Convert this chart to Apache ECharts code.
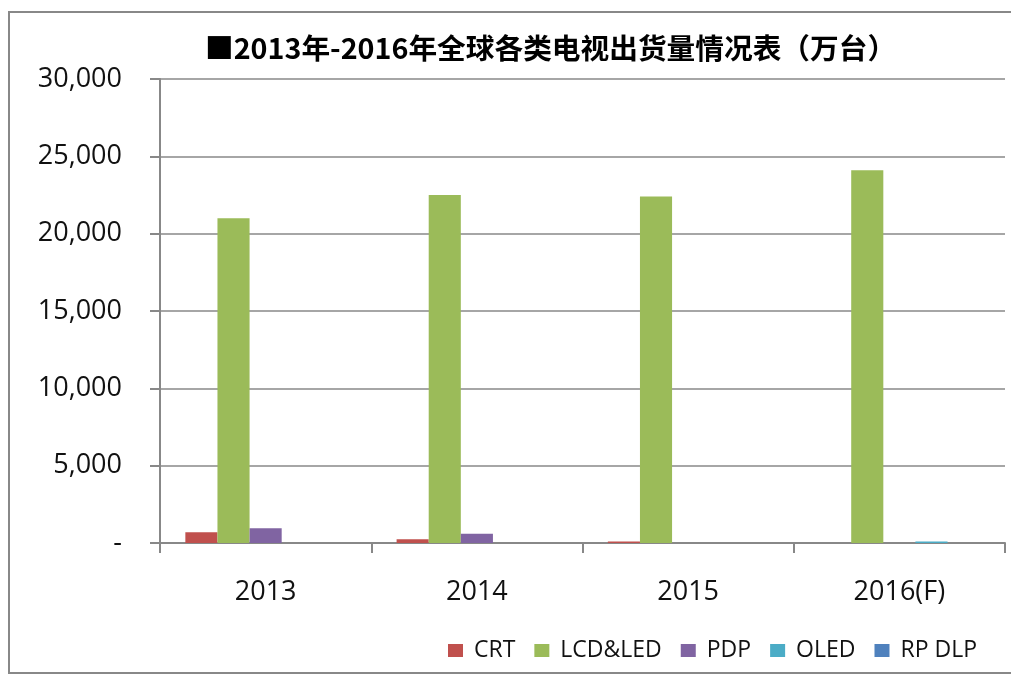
<!DOCTYPE html>
<html><head><meta charset="utf-8">
<script src="https://cdn.jsdelivr.net/npm/echarts@6/dist/echarts.min.js"></script>
<style>html,body{margin:0;padding:0;background:#fff}#c{width:1011px;height:677px}</style>
</head><body><div id="c"></div>
<script>
const categories = ['2013', '2014', '2015', '2016(F)'];
const seriesNames = ['CRT', 'LCD&LED', 'PDP', 'OLED', 'RP DLP'];
const crt = [700, 250, 100, 0];
const lcdLed = [21000, 22500, 22400, 24100];
const pdp = [950, 600, 0, 0];
const oled = [0, 0, 0, 100];
const rpDlp = [0, 0, 0, 0];
const yTicks = [0, 5000, 10000, 15000, 20000, 25000, 30000];
const colors = ['#c0504d', '#9bbb59', '#8064a2', '#4bacc6', '#4f81bd'];
const values = [crt, lcdLed, pdp, oled, rpDlp];

const chart = echarts.init(document.getElementById('c'));
const font = 'Open Sans';
chart.setOption({
  animation: false,
  color: colors,
  title: {
    text: '■2013年-2016年全球各类电视出货量情况表（万台）',
    left: 200, top: 29,
    textStyle: {fontFamily: 'Noto Sans CJK SC', fontWeight: 'bold', fontSize: 28.7, color: '#000'}
  },
  legend: {
    data: seriesNames,
    left: 443, top: 634,
    itemWidth: 15, itemHeight: 13, itemGap: 19,
    icon: 'rect',
    textStyle: {fontFamily: font, fontSize: 23, color: '#111', padding: [0, 0, 0, 6]}
  },
  graphic: [{
    type: 'rect', shape: {x: 9, y: 12, width: 1010, height: 661},
    style: {fill: 'none', stroke: '#888', lineWidth: 2}, silent: true
  }],
  grid: {left: 160, right: 6, top: 79, bottom: 134, containLabel: false},
  xAxis: {
    type: 'category', data: categories,
    axisLine: {lineStyle: {color: '#888', width: 2}},
    axisTick: {show: true, length: 10, lineStyle: {color: '#888', width: 2}},
    axisLabel: {fontFamily: font, fontSize: 27, color: '#111', margin: 36}
  },
  yAxis: {
    type: 'value', min: 0, max: 30000, interval: 5000,
    axisLine: {show: true, lineStyle: {color: '#888', width: 2}},
    axisTick: {show: true, length: 10, lineStyle: {color: '#888', width: 2}},
    splitLine: {lineStyle: {color: '#888', width: 1.5}},
    axisLabel: {
      fontFamily: font, fontSize: 27, color: '#111', margin: 38,
      formatter: v => v === 0 ? '-' : v.toLocaleString('en-US')
    }
  },
  series: seriesNames.map((n, i) => ({
    name: n, type: 'bar', data: values[i],
    barGap: '0%', barCategoryGap: '24%',
    itemStyle: {color: colors[i]}
  }))
});
</script></body></html>
